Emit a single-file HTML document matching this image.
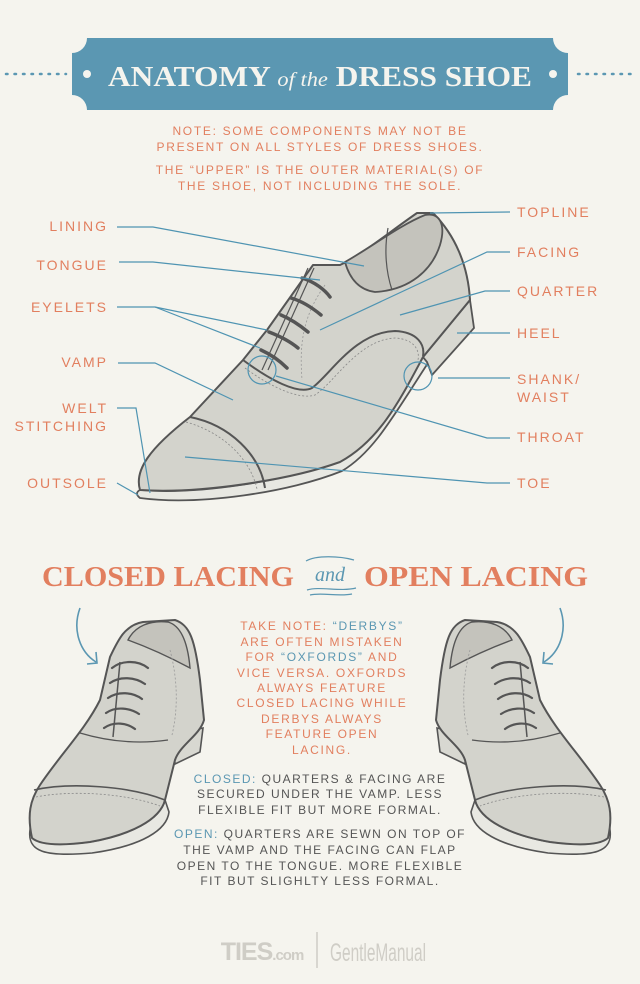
<!DOCTYPE html>
<html><head><meta charset="utf-8"><style>
html,body{margin:0;padding:0;background:#f5f4ee;}
svg{display:block}
.lb{font-family:"Liberation Sans",sans-serif;font-size:14px;fill:#e27f5f;letter-spacing:2px;}
.nt{font-family:"Liberation Sans",sans-serif;font-size:12px;fill:#e27f5f;letter-spacing:1.7px;text-anchor:middle}
.bd{font-family:"Liberation Sans",sans-serif;font-size:12px;fill:#555;letter-spacing:1.5px;text-anchor:middle}
.ln{stroke:#4f94b2;stroke-width:1.2;fill:none}
.sh{fill:#d3d3cc;stroke:#555;stroke-width:2;stroke-linejoin:round}
</style></head><body>
<svg width="640" height="984" viewBox="0 0 640 984" xmlns="http://www.w3.org/2000/svg">
<rect width="640" height="984" fill="#f5f4ee"/>
<line x1="6" y1="74" x2="66" y2="74" stroke="#5b97b2" stroke-width="2.5" stroke-dasharray="1.5 7" stroke-linecap="round"/>
<line x1="578" y1="74" x2="636" y2="74" stroke="#5b97b2" stroke-width="2.5" stroke-dasharray="1.5 7" stroke-linecap="round"/>
<path d="M87 38 H553 A15 15 0 0 0 568 53 V95 A15 15 0 0 0 553 110 H87 A15 15 0 0 0 72 95 V53 A15 15 0 0 0 87 38 Z" fill="#5b97b2"/>
<circle cx="87" cy="74" r="4" fill="#f5f4ee"/><circle cx="553" cy="74" r="4" fill="#f5f4ee"/>
<text x="108" y="86" textLength="424" lengthAdjust="spacingAndGlyphs" font-family="Liberation Serif,serif" font-weight="bold" font-size="28" fill="#f5f4ee">ANATOMY <tspan font-style="italic" font-weight="normal" font-size="20">of the</tspan> DRESS SHOE</text>
<text class="nt" x="320" y="135">NOTE: SOME COMPONENTS MAY NOT BE</text>
<text class="nt" x="320" y="151">PRESENT ON ALL STYLES OF DRESS SHOES.</text>
<text class="nt" x="320" y="174">THE “UPPER” IS THE OUTER MATERIAL(S) OF</text>
<text class="nt" x="320" y="190">THE SHOE, NOT INCLUDING THE SOLE.</text>

<!-- main shoe -->
<path d="M140 490 C200 495 290 480 335 462 C365 445 385 410 423 357 L428 363 C394 415 374 452 342 471 C290 492 200 506 140 498 C136 495 136 492 140 490 Z" fill="#e8e8e2" stroke="#555" stroke-width="1.8"/>
<polygon points="423,357 470,300 474,328 432,375 427,362" fill="#d8d8d1" stroke="#555" stroke-width="1.8"/>
<path class="sh" d="M140 490 C134 470 150 448 190 417 L243 360 L267 330 L313 265 L340 265 C362 255 388 233 417 213 L433 213 C455 235 468 265 470 300 L423 357 C400 400 380 440 340 462 C290 480 200 494 140 490 Z"/>
<path d="M345 262 C370 248 400 225 425 215 C440 212 446 225 440 245 C432 270 410 290 375 292 C360 290 350 280 345 262 Z" fill="#c4c3bc" stroke="#555" stroke-width="1.8"/>
<path d="M388 228 C384 250 386 272 392 290" stroke="#555" stroke-width="1.2" fill="none"/>
<path d="M190 417 C230 425 260 455 265 488" stroke="#555" stroke-width="2" fill="none"/>
<path d="M186 422 C222 432 250 458 257 489" stroke="#888" stroke-width="0.8" stroke-dasharray="2 2" fill="none"/>
<path d="M243 360 C270 380 298 395 312 388 C330 375 355 332 395 331 C418 332 425 345 423 356" stroke="#555" stroke-width="2" fill="none"/>
<path d="M245 368 C272 388 300 400 315 395 C335 382 358 340 395 338 C414 339 420 350 418 360" stroke="#888" stroke-width="0.8" stroke-dasharray="2 2" fill="none"/>
<path d="M308 268 L262 370 M314 268 L268 370" stroke="#555" stroke-width="1.2" fill="none"/>
<path d="M325 285 C300 320 300 350 302 380" stroke="#999" stroke-width="0.8" stroke-dasharray="2 2" fill="none"/>
<g stroke="#555" stroke-width="3.5" stroke-linecap="round" fill="none">
<path d="M302 278 C315 282 325 290 330 297"/><path d="M291 298 C305 302 315 310 321 315"/><path d="M281 315 C293 320 302 327 308 332"/><path d="M269 332 C282 337 292 343 298 348"/><path d="M261 350 C272 355 281 362 287 368"/>
</g>
<g class="ln">
<polyline points="117,227 153,227 364,266"/>
<polyline points="119,262 153,262 320,280"/>
<polyline points="117,307 155,307 267,330"/>
<line x1="155" y1="307" x2="260" y2="348"/>
<polyline points="118,363 155,363 233,400"/>
<polyline points="117,408 136,408 150,493"/>
<line x1="117" y1="483" x2="138" y2="495"/>
<line x1="430" y1="213" x2="510" y2="212"/>
<polyline points="510,252 487,252 320,330"/>
<polyline points="510,291 485,291 400,315"/>
<line x1="457" y1="333" x2="510" y2="333"/>
<circle cx="418" cy="376" r="14"/><line x1="438" y1="378" x2="510" y2="378"/>
<circle cx="262" cy="370" r="14"/><polyline points="276,376 487,438 510,438"/>
<polyline points="185,457 487,483 510,483"/>
</g>
<g class="lb">
<text x="108" y="231" text-anchor="end">LINING</text>
<text x="108" y="270" text-anchor="end">TONGUE</text>
<text x="108" y="312" text-anchor="end">EYELETS</text>
<text x="108" y="367" text-anchor="end">VAMP</text>
<text x="108" y="413" text-anchor="end">WELT</text>
<text x="108" y="431" text-anchor="end">STITCHING</text>
<text x="108" y="488" text-anchor="end">OUTSOLE</text>
<text x="517" y="217">TOPLINE</text>
<text x="517" y="257">FACING</text>
<text x="517" y="296">QUARTER</text>
<text x="517" y="338">HEEL</text>
<text x="517" y="384">SHANK/</text>
<text x="517" y="402">WAIST</text>
<text x="517" y="442">THROAT</text>
<text x="517" y="488">TOE</text>
</g>

<!-- section title -->
<text x="42" y="586" textLength="252" lengthAdjust="spacingAndGlyphs" font-family="Liberation Serif,serif" font-weight="bold" font-size="28" fill="#e27f5f">CLOSED LACING</text>
<text x="364" y="586" textLength="224" lengthAdjust="spacingAndGlyphs" font-family="Liberation Serif,serif" font-weight="bold" font-size="28" fill="#e27f5f">OPEN LACING</text>
<text x="330" y="581" text-anchor="middle" font-family="Liberation Serif,serif" font-style="italic" font-size="20" fill="#5b97b2">and</text>
<path d="M306 561 C316 555 340 556 354 560 M307 590 C320 586 340 592 356 588 M310 595 C322 592 338 597 352 594" stroke="#5b97b2" stroke-width="1.2" fill="none"/>

<!-- left shoe -->
<g id="ls">
<path d="M80 608 C72 630 80 652 96 662" stroke="#5b97b2" stroke-width="1.6" fill="none"/>
<path d="M87 664 L97 663 L96 652" stroke="#5b97b2" stroke-width="1.6" fill="none"/>
<polygon points="172,735 203,728 200,752 175,764" fill="#d8d8d1" stroke="#555" stroke-width="1.6"/>
<path d="M30 830 C27 852 45 857 92 853 C142 846 167 830 169 812 L165 800 C160 820 130 835 90 842 C60 846 40 845 30 830 Z" fill="#e8e8e2" stroke="#555" stroke-width="1.6"/>
<path class="sh" d="M32 838 C27 815 30 800 40 785 C60 755 85 730 100 700 L110 657 C118 640 125 625 143 622 L175 620 C190 625 195 640 200 680 L204 720 C200 735 180 745 175 760 L165 800 C160 820 130 835 90 842 C60 846 40 845 32 838 Z"/>
<path d="M128 640 C135 626 150 620 168 622 C182 626 188 645 190 668 C175 660 150 648 128 640 Z" fill="#c4c3bc" stroke="#555" stroke-width="1.4"/>
<path d="M34 790 C70 782 130 786 165 800" stroke="#555" stroke-width="1.6" fill="none"/>
<path d="M36 797 C70 790 125 793 160 806" stroke="#888" stroke-width="0.8" stroke-dasharray="2 2" fill="none"/>
<path d="M80 733 C110 742 140 744 168 740" stroke="#555" stroke-width="1.3" fill="none"/>
<path d="M120 662 L113 737" stroke="#555" stroke-width="1.5"/>
<path d="M170 650 C178 680 178 710 172 735" stroke="#999" stroke-width="0.8" stroke-dasharray="2 2" fill="none"/>
<g stroke="#555" stroke-width="2.2" fill="none" stroke-linecap="round">
<path d="M112 668 C122 660 138 660 148 668"/><path d="M110 683 C120 676 135 677 145 684"/><path d="M108 698 C118 691 133 692 142 699"/><path d="M106 713 C116 706 130 708 139 714"/><path d="M104 728 C114 721 127 723 135 729"/>
</g>
</g>
<use href="#ls" transform="translate(640,0) scale(-1,1)"/>

<!-- center text -->
<text class="nt" x="322" y="630">TAKE NOTE: <tspan fill="#5b97b2">“DERBYS”</tspan></text>
<text class="nt" x="322" y="646">ARE OFTEN MISTAKEN</text>
<text class="nt" x="322" y="661">FOR <tspan fill="#5b97b2">“OXFORDS”</tspan> AND</text>
<text class="nt" x="322" y="677">VICE VERSA. OXFORDS</text>
<text class="nt" x="322" y="692">ALWAYS FEATURE</text>
<text class="nt" x="322" y="707">CLOSED LACING WHILE</text>
<text class="nt" x="322" y="723">DERBYS ALWAYS</text>
<text class="nt" x="322" y="738">FEATURE OPEN</text>
<text class="nt" x="322" y="754">LACING.</text>
<text class="bd" x="320" y="783"><tspan fill="#5b97b2">CLOSED:</tspan> QUARTERS &amp; FACING ARE</text>
<text class="bd" x="320" y="798">SECURED UNDER THE VAMP. LESS</text>
<text class="bd" x="320" y="814">FLEXIBLE FIT BUT MORE FORMAL.</text>
<text class="bd" x="320" y="838"><tspan fill="#5b97b2">OPEN:</tspan> QUARTERS ARE SEWN ON TOP OF</text>
<text class="bd" x="320" y="854">THE VAMP AND THE FACING CAN FLAP</text>
<text class="bd" x="320" y="870">OPEN TO THE TONGUE. MORE FLEXIBLE</text>
<text class="bd" x="320" y="885">FIT BUT SLIGHLTY LESS FORMAL.</text>

<!-- footer -->
<text x="262" y="960" text-anchor="middle" font-family="Liberation Sans,sans-serif" font-weight="bold" font-size="25" fill="#cfcdc6" letter-spacing="-1">TIES<tspan font-size="15">.com</tspan></text>
<line x1="317" y1="932" x2="317" y2="968" stroke="#cfcdc6" stroke-width="1.5"/>
<text x="378" y="961" text-anchor="middle" font-family="Liberation Sans Narrow,Liberation Sans,sans-serif" font-size="25" fill="#cfcdc6" textLength="96" lengthAdjust="spacingAndGlyphs">GentleManual</text>
</svg>
</body></html>
